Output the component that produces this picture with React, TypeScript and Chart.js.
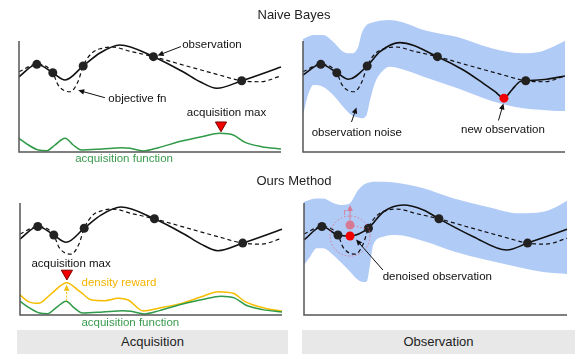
import React, { useEffect, useRef } from "react";
import { Chart, registerables } from "chart.js";

Chart.register(...registerables);

// All values are in % of the axis width (x) and % of the axis height (y).

// Objective function (dashed), shared by all panels
const objectiveX = [0, 6.8, 12.9, 14.9, 19.5, 22.5, 24.5, 27.7, 31.6, 35.4, 43.0, 51.3, 62.6, 75.5, 85.0, 92.0, 100];
const objectiveY = [72.3, 79.0, 71.4, 60.4, 54.3, 63.3, 77.5, 88.9, 93.4, 94.6, 90.4, 85.9, 78.4, 70.0, 64.2, 63.3, 68.5];

// Observations (black dots)
const obsX = [6.8, 12.9, 24.5, 51.3, 85.0];
const obsY = [79.0, 71.4, 77.5, 85.9, 64.2];

// Surrogate fit (solid) – acquisition panels
const fitX = [0, 6.8, 12.9, 17.6, 24.5, 30.9, 38.5, 51.3, 62.6, 69.1, 75.5, 85.0, 100];
const fitY = [67.8, 79.0, 71.4, 64.9, 77.5, 89.2, 96.4, 85.9, 72.3, 63.3, 57.4, 64.2, 76.6];

// Acquisition function (green)
const acqX = [0, 3.6, 7.4, 10.6, 13.7, 17.6, 20.7, 23.9, 31.6, 39.2, 42.4, 47.4, 53.2, 62.1, 69.7, 76.7, 81.8, 86.3, 92.6, 100];
const acqY = [12.3, 6.3, 1.8, 1.2, 6.3, 12.3, 6.3, 1.8, 2.7, 3.9, 3.3, 0.9, 3.9, 9.9, 13.8, 16.8, 15.3, 8.7, 4.8, 2.7];

// Acquisition max markers
const naiveMaxX = [77.1];
const naiveMaxY = [24.1];
const oursMaxX = [17.9];
const oursMaxY = [37.1];

// Density reward (yellow)
const rewardX = [0, 3.2, 7.0, 12.1, 17.8, 22.9, 27.4, 32.4, 37.5, 41.3, 47.1, 52.8, 61.7, 69.3, 75.7, 81.4, 85.9, 93.5, 100];
const rewardY = [17.9, 11.9, 10.4, 19.4, 28.8, 20.8, 13.4, 12.8, 14.9, 13.4, 3.6, 6.0, 10.4, 16.3, 20.8, 19.4, 11.9, 6.0, 3.4];

// Naive Bayes observation panel
const naiveNewFitX = [0, 6.8, 12.9, 17.3, 24.5, 29.4, 37.0, 51.3, 61.2, 68.8, 73.3, 76.7, 79.7, 82.8, 85.0, 93.0, 100];
const naiveNewFitY = [69.4, 79.0, 71.4, 65.5, 77.5, 90.4, 98.5, 85.9, 73.9, 61.9, 54.4, 48.5, 55.9, 63.4, 64.2, 65.5, 68.5];
const newObsX = [76.7];
const newObsY = [48.5];
const naiveBandX = [0, 2, 4, 7.6, 11.5, 15.3, 18.6, 21.1, 22.4, 24.3, 25.6, 27.5, 30, 33, 38, 46, 59, 72, 84, 90.5, 96.8, 100];
const naiveBandHi = [101.8, 104, 105.4, 105.4, 99.4, 90.4, 88.9, 94.9, 106.9, 114.4, 116, 117.4, 118.5, 119, 117, 110, 103.5, 93.5, 88.9, 90.4, 96.4, 100.3];
const naiveBandLo = [33.3, 52, 60.4, 58.8, 51.4, 40.8, 33, 31, 30.4, 33.5, 46.8, 62.5, 72, 76.8, 74.5, 67.8, 57.4, 46, 39.4, 38, 37, 36.9];

// Ours observation panel
const oursFitX = [0, 6.8, 12.9, 17.5, 24.5, 30.2, 37.8, 45.4, 51.3, 64.4, 77.1, 85.0, 100];
const oursFitY = [67.0, 79.0, 71.4, 70.5, 77.5, 92.2, 98.2, 93.8, 85.9, 69.9, 58.0, 64.2, 76.5];
const denoisedX = [17.5];
const denoisedY = [70.5];
const noisyX = [17.5];
const noisyY = [80.4];
const oursBandX = [0, 2.3, 4.8, 7.3, 11.1, 14, 17, 20.6, 22.5, 23.8, 25.1, 26.3, 30.2, 35, 45.4, 56.7, 69.5, 82.1, 90.9, 96.1, 100];
const oursBandHi = [101.2, 103, 104, 104, 100, 98.2, 99, 111.6, 116, 117.6, 118.5, 119, 119, 118, 113.1, 104.2, 96.7, 90.8, 92.2, 96.7, 102];
const oursBandLo = [44.6, 52.1, 59.6, 59.6, 53.6, 47, 40, 31.3, 29.5, 29.7, 44.6, 62.5, 69.9, 71.4, 66, 57, 49, 42.5, 38.5, 37.2, 36.6];

const FONT = '"Liberation Sans", Arial, Helvetica, sans-serif';
const BLACK = "#111111";
const GREEN = "#2f9a48";
const GREEN_TXT = "#3b9b4f";
const YELLOW = "#f6bd00";
const BAND = "#b1cbf7";
const RED = "#f20000";
const PINK = "rgba(228,95,115,0.75)";

type Geo = { left: number; top: number; width: number; height: number; ax0: number; ax1: number; ay0: number; ay1: number };

type Note =
  | { t: "text"; x: number; y: number; s: string; c?: string; a?: CanvasTextAlign; f?: number }
  | { t: "arrow"; x1: number; y1: number; x2: number; y2: number; c?: string; dash?: number[]; w?: number }
  | { t: "ring"; x: number; y: number; r: number; c: string }
  | { t: "seg"; x1: number; y1: number; x2: number; y2: number; c: string; dash?: number[] };

const pts = (xs: number[], ys: number[]) => xs.map((x, i) => ({ x, y: ys[i] }));

const curve = (xs: number[], ys: number[], color: string, width: number, dash: number[] = []) => ({
  data: pts(xs, ys),
  borderColor: color,
  borderWidth: width,
  borderDash: dash,
  pointRadius: 0,
  fill: false,
  cubicInterpolationMode: "monotone",
});

const marks = (xs: number[], ys: number[], color: string, radius: number, extra: any = {}) => ({
  data: pts(xs, ys),
  showLine: false,
  pointRadius: radius,
  pointBackgroundColor: color,
  pointBorderWidth: 0,
  borderWidth: 0,
  ...extra,
});

const band = (xs: number[], hi: number[], lo: number[]) => [
  {
    data: pts(xs, hi),
    borderWidth: 0,
    pointRadius: 0,
    fill: "+1",
    backgroundColor: BAND,
    cubicInterpolationMode: "monotone",
  },
  {
    data: pts(xs, lo),
    borderWidth: 0,
    pointRadius: 0,
    fill: false,
    cubicInterpolationMode: "monotone",
  },
];

const triangle = (xs: number[], ys: number[]) =>
  marks(xs, ys, RED, 6.5, { pointStyle: "triangle", rotation: 180, pointBorderColor: "#7a0000", pointBorderWidth: 1 });

function scalesFor(g: Geo) {
  const kx = (g.ax1 - g.ax0) / 100;
  const ky = (g.ay0 - g.ay1) / 100;
  return {
    x: { type: "linear", display: false, min: -(g.ax0 - g.left) / kx, max: 100 + (g.left + g.width - g.ax1) / kx },
    y: { type: "linear", display: false, min: -(g.top + g.height - g.ay0) / ky, max: 100 + (g.ay1 - g.top) / ky },
  };
}

function drawHead(ctx: CanvasRenderingContext2D, x1: number, y1: number, x2: number, y2: number, color: string) {
  const a = Math.atan2(y2 - y1, x2 - x1);
  const L = 6;
  const W = 2.8;
  ctx.save();
  ctx.setLineDash([]);
  ctx.fillStyle = color;
  ctx.beginPath();
  ctx.moveTo(x2, y2);
  ctx.lineTo(x2 - L * Math.cos(a) + W * Math.sin(a), y2 - L * Math.sin(a) - W * Math.cos(a));
  ctx.lineTo(x2 - L * Math.cos(a) - W * Math.sin(a), y2 - L * Math.sin(a) + W * Math.cos(a));
  ctx.closePath();
  ctx.fill();
  ctx.restore();
}

const notePlugin = (notes: Note[]) => ({
  id: "notes",
  afterDatasetsDraw(chart: any) {
    const ctx: CanvasRenderingContext2D = chart.ctx;
    const xs = chart.scales.x;
    const ys = chart.scales.y;
    const X = (v: number) => xs.getPixelForValue(v);
    const Y = (v: number) => ys.getPixelForValue(v);
    // axes
    ctx.save();
    ctx.strokeStyle = "#555555";
    ctx.lineWidth = 1.5;
    ctx.beginPath();
    ctx.moveTo(X(0), Y(100));
    ctx.lineTo(X(0), Y(0));
    ctx.lineTo(X(100), Y(0));
    ctx.stroke();
    ctx.restore();

    for (const n of notes) {
      ctx.save();
      if (n.t === "text") {
        ctx.font = `${n.f ?? 11.5}px ${FONT}`;
        ctx.fillStyle = n.c ?? BLACK;
        ctx.textAlign = n.a ?? "left";
        ctx.textBaseline = "middle";
        ctx.fillText(n.s, X(n.x), Y(n.y));
      } else if (n.t === "arrow") {
        const c = n.c ?? BLACK;
        const x1 = X(n.x1), y1 = Y(n.y1), x2 = X(n.x2), y2 = Y(n.y2);
        const a = Math.atan2(y2 - y1, x2 - x1);
        ctx.strokeStyle = c;
        ctx.lineWidth = n.w ?? 1;
        ctx.setLineDash(n.dash ?? []);
        ctx.beginPath();
        ctx.moveTo(x1, y1);
        ctx.lineTo(x2 - 5 * Math.cos(a), y2 - 5 * Math.sin(a));
        ctx.stroke();
        drawHead(ctx, x1, y1, x2, y2, c);
      } else if (n.t === "ring") {
        ctx.strokeStyle = n.c;
        ctx.lineWidth = 1;
        ctx.setLineDash([1.5, 2]);
        ctx.beginPath();
        ctx.arc(X(n.x), Y(n.y), n.r, 0, Math.PI * 2);
        ctx.stroke();
      } else if (n.t === "seg") {
        ctx.strokeStyle = n.c;
        ctx.lineWidth = 1;
        ctx.setLineDash(n.dash ?? []);
        ctx.beginPath();
        ctx.moveTo(X(n.x1), Y(n.y1));
        ctx.lineTo(X(n.x2), Y(n.y2));
        ctx.stroke();
      }
      ctx.restore();
    }
  },
});

function Panel({ geo, build, notes }: { geo: Geo; build: () => any[]; notes: Note[] }) {
  const ref = useRef<HTMLCanvasElement>(null);
  useEffect(() => {
    const chart = new Chart(ref.current as HTMLCanvasElement, {
      type: "line",
      data: { datasets: build() },
      options: {
        animation: false,
        responsive: false,
        events: [],
        layout: { padding: 0, autoPadding: false },
        plugins: { legend: { display: false }, tooltip: { enabled: false } },
        scales: scalesFor(geo) as any,
      },
      plugins: [notePlugin(notes) as any],
    } as any);
    return () => chart.destroy();
  }, []);
  return (
    <canvas
      ref={ref}
      width={geo.width}
      height={geo.height}
      style={{ position: "absolute", left: geo.left, top: geo.top, width: geo.width, height: geo.height }}
    />
  );
}

const geoTL: Geo = { left: 0, top: 0, width: 290, height: 172, ax0: 19, ax1: 281, ay0: 152, ay1: 41 };
const geoTR: Geo = { left: 290, top: 0, width: 291, height: 172, ax0: 303, ax1: 565, ay0: 152, ay1: 41 };
const geoBL: Geo = { left: 0, top: 172, width: 290, height: 157, ax0: 20, ax1: 282, ay0: 315, ay1: 203 };
const geoBR: Geo = { left: 290, top: 172, width: 291, height: 157, ax0: 304, ax1: 567, ay0: 315, ay1: 203 };

const notesTL: Note[] = [
  { t: "text", x: 62.3, y: 96.2, s: "observation" },
  { t: "arrow", x1: 61.8, y1: 95.0, x2: 52.9, y2: 86.9 },
  { t: "text", x: 34.1, y: 47.7, s: "objective fn" },
  { t: "arrow", x1: 32.8, y1: 48.9, x2: 22.6, y2: 55.6 },
  { t: "text", x: 79.2, y: 35.3, s: "acquisition max", a: "center" },
  { t: "text", x: 40.1, y: -6.6, s: "acquisition function", a: "center", c: GREEN_TXT },
];

const notesTR: Note[] = [
  { t: "text", x: 20.5, y: 17.7, s: "observation noise", a: "center" },
  { t: "arrow", x1: 18.5, y1: 27.0, x2: 20.4, y2: 40.1 },
  { t: "text", x: 76.3, y: 19.8, s: "new observation", a: "center" },
  { t: "arrow", x1: 74.6, y1: 28.4, x2: 76.5, y2: 43.7 },
];

const notesBL: Note[] = [
  { t: "text", x: 19.5, y: 45.3, s: "acquisition max", a: "center" },
  { t: "text", x: 23.5, y: 28.8, s: "density reward", c: "#f4b400" },
  { t: "arrow", x1: 17.8, y1: 12.5, x2: 17.8, y2: 27.0, c: YELLOW, dash: [2, 1.5] },
  { t: "text", x: 42.1, y: -6.8, s: "acquisition function", a: "center", c: GREEN_TXT },
];

const notesBR: Note[] = [
  { t: "ring", x: 17.5, y: 70.5, r: 20, c: PINK },
  { t: "seg", x1: 17.5, y1: 80.4, x2: 24.0, y2: 76.8, c: PINK, dash: [1.5, 2] },
  { t: "arrow", x1: 17.5, y1: 84.5, x2: 17.5, y2: 98.2, c: PINK },
  { t: "text", x: 15.6, y: 91.3, s: "r", c: PINK, a: "center", f: 9 },
  { t: "text", x: 29.9, y: 33.7, s: "denoised observation" },
  { t: "arrow", x1: 30.0, y1: 40.2, x2: 19.8, y2: 67.4 },
];

const buildTL = () => [
  triangle(naiveMaxX, naiveMaxY),
  marks(obsX, obsY, "#222222", 4.5),
  curve(fitX, fitY, BLACK, 1.6),
  curve(objectiveX, objectiveY, BLACK, 1.2, [4, 3]),
  curve(acqX, acqY, GREEN, 1.5),
];

const buildTR = () => [
  marks(newObsX, newObsY, RED, 4.5),
  marks(obsX, obsY, "#222222", 4.5),
  curve(naiveNewFitX, naiveNewFitY, BLACK, 1.6),
  curve(objectiveX, objectiveY, BLACK, 1.2, [4, 3]),
  ...band(naiveBandX, naiveBandHi, naiveBandLo),
];

const buildBL = () => [
  triangle(oursMaxX, oursMaxY),
  marks(obsX, obsY, "#222222", 4.5),
  curve(fitX, fitY, BLACK, 1.6),
  curve(objectiveX, objectiveY, BLACK, 1.2, [4, 3]),
  curve(acqX, acqY, GREEN, 1.5),
  curve(rewardX, rewardY, YELLOW, 1.5),
];

const buildBR = () => [
  marks(denoisedX, denoisedY, RED, 4.5),
  marks(noisyX, noisyY, PINK, 4.5),
  marks(obsX, obsY, "#222222", 4.5),
  curve(oursFitX, oursFitY, BLACK, 1.6),
  curve(objectiveX, objectiveY, BLACK, 1.2, [4, 3]),
  ...band(oursBandX, oursBandHi, oursBandLo),
];

const titleStyle: React.CSSProperties = {
  position: "absolute",
  left: 0,
  width: 588,
  textAlign: "center",
  fontFamily: FONT,
  fontSize: 13,
  lineHeight: "15px",
  color: "#222",
};

const boxStyle: React.CSSProperties = {
  position: "absolute",
  top: 330,
  height: 24,
  textAlign: "center",
  background: "#e8e8e8",
  fontFamily: FONT,
  fontSize: 13,
  lineHeight: "24px",
  color: "#222",
};

export default function App() {
  return (
    <div style={{ position: "absolute", left: 0, top: 0, width: 581, height: 359, background: "#fff", overflow: "hidden" }}>
      <Panel geo={geoTL} build={buildTL} notes={notesTL} />
      <Panel geo={geoTR} build={buildTR} notes={notesTR} />
      <Panel geo={geoBL} build={buildBL} notes={notesBL} />
      <Panel geo={geoBR} build={buildBR} notes={notesBR} />
      <div style={{ ...titleStyle, top: 7 }}>Naive Bayes</div>
      <div style={{ ...titleStyle, top: 173 }}>Ours Method</div>
      <div style={{ ...boxStyle, left: 17, width: 271 }}>Acquisition</div>
      <div style={{ ...boxStyle, left: 302, width: 273 }}>Observation</div>
    </div>
  );
}
